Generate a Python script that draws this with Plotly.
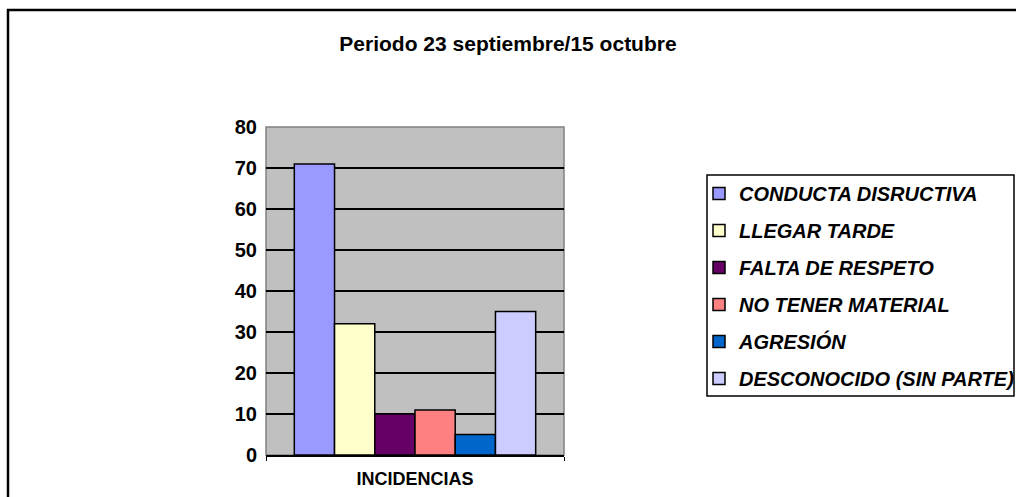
import plotly.graph_objects as go

W, H = 1016, 497

category = ["INCIDENCIAS"]
series_names = ["CONDUCTA DISRUCTIVA", "LLEGAR TARDE", "FALTA DE RESPETO",
                "NO TENER MATERIAL", "AGRESIÓN", "DESCONOCIDO (SIN PARTE)"]
series_values = [71, 32, 10, 11, 5, 35]
series_colors = ["#9999FF", "#FFFFCC", "#660066", "#FF8080", "#0066CC", "#CCCCFF"]
y_ticks = [0, 10, 20, 30, 40, 50, 60, 70, 80]
title_text = "Periodo 23 septiembre/15 octubre"

FONT = "Arial, 'Liberation Sans', sans-serif"

fig = go.Figure()
for name, val, col in zip(series_names, series_values, series_colors):
    fig.add_trace(go.Bar(
        x=category, y=[val], name="<b><i>" + name + "</i></b>", legendgroup=name,
        marker=dict(color=col, line=dict(color="black", width=1.5)),
    ))


def px_x(p):
    return p / W


def px_y(p):
    return 1 - p / H


fig.update_layout(
    width=W, height=H,
    margin=dict(l=0, r=0, t=0, b=0, autoexpand=False),
    paper_bgcolor="white",
    plot_bgcolor="#C0C0C0",
    barmode="group", bargap=0.19, bargroupgap=0,
    font=dict(family=FONT, color="black"),
    title=dict(text="<b>" + title_text + "</b>", x=0.5, xanchor="center",
               y=px_y(44), yanchor="middle", font=dict(size=21)),
    xaxis=dict(domain=[px_x(266), px_x(564)], showgrid=False, automargin=False,
               showline=True, linecolor="black", linewidth=1.5,
               ticks="outside", tickson="boundaries", ticklen=4, tickcolor="black",
               tickfont=dict(size=18), ticklabelstandoff=7,
               tickvals=category, ticktext=["<b>" + c + "</b>" for c in category]),
    yaxis=dict(domain=[px_y(455), px_y(127)], range=[0, 80], automargin=False,
               tickvals=y_ticks, ticktext=["<b>%d</b>" % v for v in y_ticks],
               tickfont=dict(size=20), showgrid=True, gridcolor="black", gridwidth=1.5,
               zeroline=False, showline=False, ticks="", ticklabelstandoff=8),
    showlegend=True,
    legend=dict(x=px_x(699), xanchor="left", y=px_y(174), yanchor="top",
                bgcolor="rgba(0,0,0,0)", borderwidth=0,
                font=dict(size=20), traceorder="grouped", tracegroupgap=8),
    shapes=[
        # plot area gray border
        dict(type="rect", xref="x domain", yref="y domain", x0=0, x1=1, y0=0, y1=1,
             line=dict(color="#808080", width=1.5), layer="below"),
        # legend box
        dict(type="rect", xref="paper", yref="paper",
             x0=px_x(707), x1=px_x(1014), y0=px_y(396), y1=px_y(175),
             line=dict(color="black", width=1.5)),
        # chart outer border
        dict(type="rect", xref="paper", yref="paper",
             x0=px_x(8), x1=1.02, y0=-0.02, y1=px_y(10),
             line=dict(color="black", width=2.5)),
    ],
)

fig.write_html("out.html", config={"displayModeBar": False},
               post_script="document.body.style.margin='0';")
